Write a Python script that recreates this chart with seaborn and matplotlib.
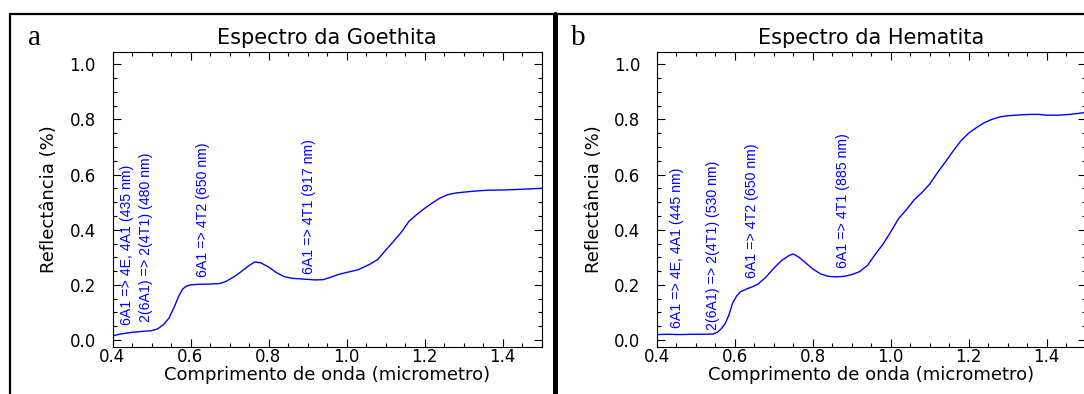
import numpy as np
import pandas as pd
import matplotlib
matplotlib.use("Agg")
import matplotlib.pyplot as plt
from matplotlib.lines import Line2D
from matplotlib.ticker import MultipleLocator
import seaborn as sns

# goethita spectrum
goe_x = [0.400, 0.420, 0.450, 0.480, 0.500, 0.515, 0.530, 0.545, 0.560, 0.570,
         0.580, 0.590, 0.600, 0.620, 0.650, 0.675, 0.690, 0.710, 0.730, 0.750,
         0.765, 0.780, 0.800, 0.820, 0.840, 0.860, 0.880, 0.900, 0.920, 0.940,
         0.960, 0.980, 1.000, 1.030, 1.060, 1.080, 1.100, 1.120, 1.140, 1.160,
         1.180, 1.200, 1.220, 1.240, 1.260, 1.280, 1.300, 1.330, 1.360, 1.400,
         1.440, 1.470, 1.500]
goe_y = [0.015, 0.022, 0.028, 0.032, 0.034, 0.040, 0.055, 0.080, 0.125, 0.160,
         0.185, 0.196, 0.200, 0.202, 0.203, 0.205, 0.212, 0.228, 0.248, 0.270,
         0.283, 0.280, 0.265, 0.245, 0.230, 0.224, 0.222, 0.220, 0.218, 0.219,
         0.228, 0.238, 0.245, 0.255, 0.275, 0.292, 0.325, 0.357, 0.390, 0.430,
         0.455, 0.477, 0.497, 0.515, 0.527, 0.533, 0.536, 0.540, 0.543, 0.544,
         0.546, 0.548, 0.550]

# hematita spectrum
hem_x = [0.400, 0.430, 0.460, 0.490, 0.520, 0.545, 0.555, 0.565, 0.575, 0.585,
         0.595, 0.605, 0.615, 0.630, 0.645, 0.660, 0.680, 0.700, 0.720, 0.740,
         0.750, 0.765, 0.780, 0.800, 0.820, 0.840, 0.860, 0.880, 0.900, 0.920,
         0.940, 0.960, 0.980, 1.000, 1.020, 1.040, 1.060, 1.080, 1.100, 1.120,
         1.140, 1.160, 1.180, 1.200, 1.220, 1.240, 1.260, 1.280, 1.300, 1.330,
         1.360, 1.380, 1.400, 1.430, 1.460, 1.500]
hem_y = [0.020, 0.021, 0.020, 0.021, 0.021, 0.022, 0.028, 0.040, 0.058, 0.090,
         0.135, 0.160, 0.175, 0.185, 0.193, 0.203, 0.228, 0.260, 0.288, 0.307,
         0.312, 0.300, 0.282, 0.258, 0.240, 0.231, 0.229, 0.231, 0.237, 0.248,
         0.270, 0.310, 0.347, 0.392, 0.440, 0.472, 0.508, 0.535, 0.565, 0.607,
         0.645, 0.685, 0.722, 0.750, 0.770, 0.788, 0.800, 0.809, 0.813, 0.816,
         0.818, 0.818, 0.815, 0.815, 0.818, 0.825]

# band labels: text, x, y (bottom of text)
goe_labels = ["6A1 => 4E, 4A1 (435 nm)", "2(6A1) => 2(4T1) (480 nm)",
              "6A1 => 4T2 (650 nm)", "6A1 => 4T1 (917 nm)"]
goe_lab_x = [0.438, 0.485, 0.633, 0.905]
goe_lab_y = [0.054, 0.066, 0.230, 0.240]

hem_labels = ["6A1 => 4E, 4A1 (445 nm)", "2(6A1) => 2(4T1) (530 nm)",
              "6A1 => 4T2 (650 nm)", "6A1 => 4T1 (885 nm)"]
hem_lab_x = [0.451, 0.544, 0.644, 0.878]
hem_lab_y = [0.044, 0.036, 0.225, 0.260]

titles = ["Espectro da Goethita", "Espectro da Hematita"]
letters = ["a", "b"]

sns.set_style("ticks")
plt.rcParams["font.family"] = ["DejaVu Sans"]
plt.rcParams["text.color"] = "black"
plt.rcParams["axes.labelcolor"] = "black"
plt.rcParams["xtick.color"] = "black"
plt.rcParams["ytick.color"] = "black"

W, H = 1084, 394
fig = plt.figure(figsize=(W / 100, H / 100), dpi=100)

ax_left = [112.5, 656.7]
ax_w = 429
ax_bottom = (H - 346.7) / H
ax_h = (346.7 - 52.3) / H

panels = [
    (goe_x, goe_y, goe_labels, goe_lab_x, goe_lab_y),
    (hem_x, hem_y, hem_labels, hem_lab_x, hem_lab_y),
]

for i, (xs, ys, labs, lx, ly) in enumerate(panels):
    ax = fig.add_axes([ax_left[i] / W, ax_bottom, ax_w / W, ax_h])
    df = pd.DataFrame({"x": xs, "y": ys})
    sns.lineplot(data=df, x="x", y="y", ax=ax, color="blue", linewidth=1.0)

    for t, xx, yy in zip(labs, lx, ly):
        ax.text(xx, yy, t, rotation=90, ha="center", va="bottom",
                color="blue", fontsize=10.2, family=["Liberation Sans"])

    ax.set_xlim(0.4, 1.5)
    ax.set_ylim(-0.024, 1.043)
    ax.xaxis.set_minor_locator(MultipleLocator(0.05))
    ax.yaxis.set_minor_locator(MultipleLocator(0.05))
    ax.set_xticks([0.4, 0.6, 0.8, 1.0, 1.2, 1.4])
    ax.set_xticklabels(["0.4", "0.6", "0.8", "1.0", "1.2", "1.4"])
    ax.set_yticks([0.0, 0.2, 0.4, 0.6, 0.8, 1.0])
    ax.set_yticklabels(["0.0", "0.2", "0.4", "0.6", "0.8", "1.0"])
    ax.tick_params(which="both", direction="in", top=True, right=True,
                   color="black", labelcolor="black", width=0.8)
    ax.tick_params(which="major", length=6)
    ax.tick_params(which="minor", length=3)
    ax.tick_params(axis="x", labelsize=12, pad=1)
    ax.tick_params(axis="y", labelsize=12, pad=12)
    for s in ax.spines.values():
        s.set_visible(True)
        s.set_color("black")
        s.set_linewidth(0.8)

    ax.set_xlabel("Comprimento de onda (micrometro)", fontsize=13,
                  labelpad=0, color="black")
    ax.set_ylabel("Reflectância (%)", fontsize=13, labelpad=8, color="black")
    ax.set_title(titles[i], fontsize=15, pad=6, color="black")

    fig.text((ax_left[i] - 78) / W, 1 - 45 / H, letters[i], fontsize=21,
             family=["Liberation Serif"], ha="center", va="baseline",
             color="black")

# outer frame and divider
fig.add_artist(Line2D([10 / W, 1], [1 - 14 / H, 1 - 14 / H], color="black", linewidth=1.6))
fig.add_artist(Line2D([10 / W, 10 / W], [0, 1 - 14 / H], color="black", linewidth=1.6))
fig.add_artist(Line2D([554.5 / W, 554.5 / W], [0, 1 - 14 / H], color="black", linewidth=3.6))

fig.savefig("out.png", dpi=100)
